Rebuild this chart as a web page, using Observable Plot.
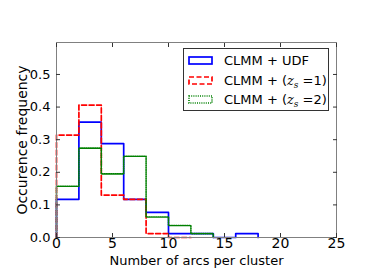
<!DOCTYPE html>
<html>
<head>
<meta charset="utf-8">
<script src="https://cdn.jsdelivr.net/npm/d3@7"></script>
<script src="https://cdn.jsdelivr.net/npm/@observablehq/plot@0.6"></script>
<style>
  html, body { margin: 0; padding: 0; background: #fff; }
  #wrap { position: relative; width: 374px; height: 280px; font-family: "DejaVu Sans", sans-serif; }
  #legend { position: absolute; left: 183px; top: 48px; width: 146px; height: 63px; border: 1px solid #333; background: #fff; box-sizing: border-box; font-size: 13px; }
  .sw { position: absolute; left: 4px; }
  .lab { position: absolute; left: 40px; white-space: nowrap; line-height: 16px; }
  .lab i { font-family: "DejaVu Serif", serif; }
  .lab sub { font-size: 9px; font-style: italic; font-family: "DejaVu Serif", serif; vertical-align: -3px; line-height: 0; }
</style>
</head>
<body>
<div id="wrap"></div>
<script>
// Histogram bins (width 2) starting at 0
const binWidth = 2;
const udf = [0.117, 0.354, 0.288, 0.117, 0.077, 0.012, 0.012, 0.0, 0.012];
const zs1 = [0.314, 0.406, 0.130, 0.117, 0.012, 0.0];
const zs2 = [0.157, 0.274, 0.195, 0.249, 0.063, 0.037, 0.012];
const seriesNames = ["CLMM + UDF", "CLMM + (zs=1)", "CLMM + (zs=2)"];
const xTicks = [0, 5, 10, 15, 20, 25];
const yTicks = [0.0, 0.1, 0.2, 0.3, 0.4, 0.5];

function stepPath(vals) {
  const pts = [{x: 0, y: 0}];
  vals.forEach((v, i) => pts.push({x: i * binWidth, y: v}));
  pts.push({x: vals.length * binWidth, y: vals[vals.length - 1]});
  pts.push({x: vals.length * binWidth, y: 0});
  return pts;
}

const blank = () => "";

const chart = Plot.plot({
  width: 374,
  height: 280,
  marginLeft: 56,
  marginRight: 38,
  marginTop: 42,
  marginBottom: 43,
  style: {fontFamily: "DejaVu Sans, sans-serif", fontSize: "13px", color: "#000", background: "#fff"},
  x: {domain: [0, 25]},
  y: {domain: [0, 0.598]},
  marks: [
    Plot.line(stepPath(udf), {x: "x", y: "y", curve: "step-after", stroke: "#0000ff", strokeWidth: 1.7}),
    Plot.line(stepPath(zs1), {x: "x", y: "y", curve: "step-after", stroke: "#ff0000", strokeWidth: 1.7, strokeDasharray: "5,2.5"}),
    Plot.line(stepPath(zs2), {x: "x", y: "y", curve: "step-after", stroke: "#008000", strokeWidth: 1.6, strokeDasharray: "1,1.2"}),
    Plot.frame({stroke: "#808080"}),
    Plot.axisX(xTicks, {anchor: "bottom", tickSize: -4, tickFormat: blank, stroke: "#333", label: null}),
    Plot.axisX(xTicks, {anchor: "top", tickSize: -4, tickFormat: blank, stroke: "#333", label: null}),
    Plot.axisY(yTicks, {anchor: "left", tickSize: -4, tickFormat: blank, stroke: "#333", label: null}),
    Plot.axisY(yTicks, {anchor: "right", tickSize: -4, tickFormat: blank, stroke: "#333", label: null}),
    Plot.axisX(xTicks, {anchor: "bottom", tickSize: 0, tickPadding: 1, fontSize: 14, label: null}),
    Plot.axisY(yTicks, {anchor: "left", tickSize: 0, tickPadding: 6, tickFormat: d3.format(".1f"), fontSize: 13, label: null}),
    Plot.axisX({anchor: "bottom", ticks: [], tickSize: 0, fontSize: 13, label: "Number of arcs per cluster", labelAnchor: "center", labelOffset: 27, labelArrow: "none"}),
    Plot.axisY({anchor: "left", ticks: [], tickSize: 0, fontSize: 14, label: "Occurence frequency", labelAnchor: "center", labelOffset: 39, labelArrow: "none"})
  ]
});

const wrap = document.getElementById("wrap");
wrap.appendChild(chart);

const legend = document.createElement("div");
legend.id = "legend";
const styles = [
  {stroke: "#0000ff", dash: null, html: "CLMM + UDF"},
  {stroke: "#ff0000", dash: "5,2.5", html: "CLMM + (<i>z</i><sub>s</sub> =1)"},
  {stroke: "#008000", dash: "1,1.2", html: "CLMM + (<i>z</i><sub>s</sub> =2)"}
];
styles.forEach((s, i) => {
  const top = 4 + i * 19.5;
  const svg = d3.create("svg").attr("class", "sw").attr("width", 26).attr("height", 12)
    .style("top", (top + 2) + "px");
  svg.append("rect").attr("x", 1).attr("y", 2).attr("width", 23).attr("height", 7)
    .attr("fill", "none").attr("stroke", s.stroke).attr("stroke-width", 1.7)
    .attr("stroke-dasharray", s.dash);
  legend.appendChild(svg.node());
  const lab = document.createElement("div");
  lab.className = "lab";
  lab.style.top = top + "px";
  lab.innerHTML = s.html;
  legend.appendChild(lab);
});
wrap.appendChild(legend);
</script>
</body>
</html>
